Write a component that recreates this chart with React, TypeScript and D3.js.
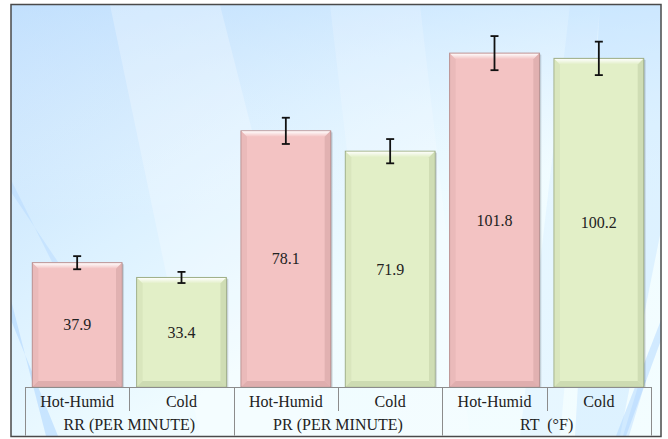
import React from "react";
import * as d3 from "d3";

const categories = ["Hot-Humid", "Cold", "Hot-Humid", "Cold", "Hot-Humid", "Cold"];
const groups = ["RR (PER MINUTE)", "PR (PER MINUTE)", "RT  (°F)"];
const values = [37.9, 33.4, 78.1, 71.9, 101.8, 100.2];
const errors = [2.0, 1.7, 4.0, 3.7, 5.2, 5.1];
const seriesOf = ["hot", "cold", "hot", "cold", "hot", "cold"];

const W = 668;
const H = 439;
const FRAME = { x: 11, y: 4.5, x2: 661, y2: 436.5 };
const AXIS_Y = 387;
const X0 = 25;
const X1 = 651;

const palette: Record<string, { fill: string; edge: string; dark: string }> = {
  hot: { fill: "#f3c3c3", edge: "#b88e8e", dark: "#d9a9a9" },
  cold: { fill: "#e2efc7", edge: "#9fae87", dark: "#c8d6ad" },
};

const FONT = "Liberation Serif";

export default function App() {
  const idx = categories.map((_, i) => String(i));
  const x = d3.scaleBand<string>().domain(idx).range([X0, X1]).paddingInner(0.14).paddingOuter(0.07);
  const y = d3.scaleLinear().domain([0, 118]).range([AXIS_Y, 0]);
  const step = x.step();

  return (
    <svg width={W} height={H} style={{ display: "block", position: "absolute", left: 0, top: 0 }}>
      <defs>
        <linearGradient id="bg" x1="0" y1="0" x2="1" y2="1">
          <stop offset="0" stopColor="#bcdcfc" />
          <stop offset="0.35" stopColor="#dcf1ff" />
          <stop offset="0.6" stopColor="#f0fcff" />
          <stop offset="1" stopColor="#f3fdff" />
        </linearGradient>
        <linearGradient id="bgTop" x1="0" y1="0" x2="0" y2="1">
          <stop offset="0" stopColor="#c8e4ff" stopOpacity="0.5" />
          <stop offset="0.5" stopColor="#ffffff" stopOpacity="0" />
        </linearGradient>
        <linearGradient id="bevelTop" x1="0" y1="0" x2="0" y2="1">
          <stop offset="0" stopColor="#ffffff" stopOpacity="0.95" />
          <stop offset="1" stopColor="#ffffff" stopOpacity="0" />
        </linearGradient>
      </defs>

      <rect width={W} height={H} fill="#ffffff" />
      <rect x={FRAME.x} y={FRAME.y} width={FRAME.x2 - FRAME.x} height={FRAME.y2 - FRAME.y} fill="url(#bg)" />
      <rect x={FRAME.x} y={FRAME.y} width={FRAME.x2 - FRAME.x} height={FRAME.y2 - FRAME.y} fill="url(#bgTop)" />
      <polygon points="110,5 220,5 330,436 200,436" fill="#ffffff" opacity="0.25" />
      <polygon points="330,5 420,5 470,436 380,436" fill="#ffffff" opacity="0.18" />
      <polygon points="570,5 600,5 560,436 520,436" fill="#9fd0ff" opacity="0.12" />
      <polygon points="600,5 661,5 661,230 620,436 575,436" fill="#b8dcff" opacity="0.35" />
      <polygon points="11,300 11,320 58,436 46,436" fill="#a8d2ff" opacity="0.5" />
      <polygon points="11,180 11,192 58,262 52,262" fill="#a8d2ff" opacity="0.35" />
      <polygon points="661,320 661,340 626,436 616,436" fill="#a8d2ff" opacity="0.45" />
      <polygon points="640,380 646,380 629,436 623,436" fill="#a8d2ff" opacity="0.35" />

      {values.map((v, i) => {
        const c = palette[seriesOf[i]];
        const bx = x(String(i)) as number;
        const bw = x.bandwidth();
        const by = y(v);
        const bh = AXIS_Y - by;
        const b = 6;
        return (
          <g key={i}>
            <rect x={bx + 2} y={by + 1.5} width={bw} height={bh - 1.5} fill="#000" opacity="0.12" />
            <rect x={bx + 1} y={by + 0.5} width={bw} height={bh - 0.5} fill="#000" opacity="0.1" />
            <rect x={bx} y={by} width={bw} height={bh} fill={c.fill} stroke={c.edge} strokeWidth={1} />
            <polygon
              points={`${bx + 0.5},${by + 0.5} ${bx + bw - 0.5},${by + 0.5} ${bx + bw - b},${by + b} ${bx + b},${by + b}`}
              fill="url(#bevelTop)"
            />
            <polygon
              points={`${bx + 0.5},${by + 0.5} ${bx + b},${by + b} ${bx + b},${AXIS_Y - b} ${bx + 0.5},${AXIS_Y - 0.5}`}
              fill={c.dark}
              opacity="0.35"
            />
            <polygon
              points={`${bx + bw - 0.5},${by + 0.5} ${bx + bw - b},${by + b} ${bx + bw - b},${AXIS_Y - b} ${bx + bw - 0.5},${AXIS_Y - 0.5}`}
              fill={c.dark}
              opacity="0.7"
            />
            <polygon
              points={`${bx + 0.5},${AXIS_Y - 0.5} ${bx + b},${AXIS_Y - b} ${bx + bw - b},${AXIS_Y - b} ${bx + bw - 0.5},${AXIS_Y - 0.5}`}
              fill={c.dark}
              opacity="0.8"
            />
            <text x={bx + bw / 2} y={(by + AXIS_Y) / 2 + 5.5} textAnchor="middle" fill="#222" fontFamily={FONT} fontSize={16}>
              {v.toFixed(1)}
            </text>
          </g>
        );
      })}

      {values.map((v, i) => {
        const cx = (x(String(i)) as number) + x.bandwidth() / 2;
        const yt = y(v + errors[i]);
        const yb = y(v - errors[i]);
        return (
          <g key={"e" + i} stroke="#111" strokeWidth={1.8}>
            <line x1={cx} x2={cx} y1={yt} y2={yb} />
            <line x1={cx - 4} x2={cx + 4} y1={yt} y2={yt} />
            <line x1={cx - 4} x2={cx + 4} y1={yb} y2={yb} />
          </g>
        );
      })}

      <g stroke="#8c8c8c" strokeWidth={1}>
        <line x1={X0} x2={X1} y1={AXIS_Y + 0.5} y2={AXIS_Y + 0.5} />
        {d3.range(categories.length + 1).map((k) => {
          const xx = Math.round(X0 + k * step) + 0.5;
          const full = k % 2 === 0;
          return <line key={k} x1={xx} x2={xx} y1={AXIS_Y} y2={full ? FRAME.y2 - 1 : 411} />;
        })}
      </g>
      {categories.map((c, i) => (
        <text key={"c" + i} x={X0 + (i + 0.5) * step} y={407} textAnchor="middle" fill="#222" fontFamily={FONT} fontSize={16}>
          {c}
        </text>
      ))}
      {groups.map((g, j) => (
        <text
          key={"g" + j}
          x={X0 + (j * 2 + 1) * step}
          y={430}
          textAnchor="middle"
          fill="#222"
          fontFamily={FONT}
          fontSize={16}
          xmlSpace="preserve"
        >
          {g}
        </text>
      ))}

      <rect
        x={FRAME.x}
        y={FRAME.y}
        width={FRAME.x2 - FRAME.x}
        height={FRAME.y2 - FRAME.y}
        fill="none"
        stroke="#4a4a4a"
        strokeWidth={1.5}
      />
    </svg>
  );
}
